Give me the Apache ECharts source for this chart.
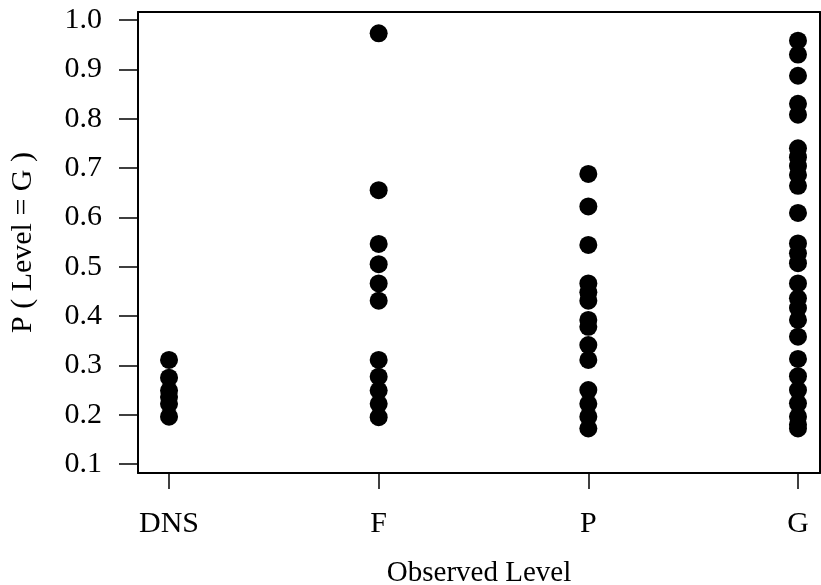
<!DOCTYPE html>
<html>
<head>
<meta charset="utf-8">
<script src="https://cdn.jsdelivr.net/npm/echarts@6/dist/echarts.min.js"></script>
<style>
  html, body { margin: 0; padding: 0; background: #fff; }
  #chart { width: 821px; height: 585px; }
</style>
</head>
<body>
<div id="chart"></div>
<script>
const levels = ['DNS', 'F', 'P', 'G'];
const dnsValues = [0.311, 0.275, 0.249, 0.236, 0.222, 0.196];
const fValues = [0.973, 0.655, 0.546, 0.505, 0.466, 0.431, 0.311, 0.277, 0.249, 0.222, 0.195];
const pValues = [0.688, 0.622, 0.544, 0.466, 0.448, 0.431, 0.392, 0.378, 0.341, 0.311, 0.250, 0.222, 0.196, 0.172];
const gValues = [0.958, 0.930, 0.887, 0.830, 0.808, 0.740, 0.722, 0.704, 0.686, 0.664, 0.609,
  0.547, 0.527, 0.507, 0.466, 0.436, 0.416, 0.392, 0.358, 0.313, 0.278, 0.250, 0.223, 0.196, 0.180, 0.172];
const yTicks = [0.1, 0.2, 0.3, 0.4, 0.5, 0.6, 0.7, 0.8, 0.9, 1.0];

const groups = [dnsValues, fValues, pValues, gValues];
const points = [];
groups.forEach((vals, i) => {
  vals.forEach(v => points.push([i + 1, v]));
});

const font = 'Liberation Serif';
const chart = echarts.init(document.getElementById('chart'));

chart.setOption({
  animation: false,
  backgroundColor: '#ffffff',
  grid: { left: 138, right: 1, top: 12, bottom: 112, containLabel: false, outerBoundsMode: 'none' },
  xAxis: [{
    type: 'value',
    min: 0.852,
    max: 4.105,
    name: 'Observed Level',
    nameLocation: 'middle',
    nameGap: 86,
    nameTextStyle: { fontFamily: font, fontSize: 29, color: '#000' },
    axisLine: { show: true, onZero: false, lineStyle: { color: '#000', width: 2 } },
    axisTick: { show: true, length: 16, customValues: [1, 2, 3, 4], lineStyle: { color: '#000', width: 1.5 } },
    axisLabel: {
      customValues: [1, 2, 3, 4],
      margin: 36,
      fontFamily: font, fontSize: 30, color: '#000',
      formatter: v => levels[Math.round(v) - 1]
    },
    splitLine: { show: false }
  }, {
    type: 'value',
    position: 'top',
    min: 0.852,
    max: 4.105,
    axisLine: { show: true, onZero: false, lineStyle: { color: '#000', width: 2 } },
    axisTick: { show: false },
    axisLabel: { show: false },
    splitLine: { show: false }
  }],
  yAxis: [{
    type: 'value',
    min: 0.0818,
    max: 1.0162,
    name: 'P ( Level = G )',
    nameLocation: 'middle',
    nameGap: 100,
    nameTextStyle: { fontFamily: font, fontSize: 30, color: '#000' },
    axisLine: { show: true, onZero: false, lineStyle: { color: '#000', width: 2 } },
    axisTick: { show: true, length: 19, customValues: yTicks, lineStyle: { color: '#000', width: 1.5 } },
    axisLabel: {
      customValues: yTicks,
      margin: 36,
      fontFamily: font, fontSize: 30, color: '#000',
      formatter: v => v.toFixed(1)
    },
    splitLine: { show: false }
  }, {
    type: 'value',
    position: 'right',
    min: 0.0818,
    max: 1.0162,
    axisLine: { show: true, onZero: false, lineStyle: { color: '#000', width: 2 } },
    axisTick: { show: false },
    axisLabel: { show: false },
    splitLine: { show: false }
  }],
  series: [{
    type: 'scatter',
    data: points,
    symbol: 'circle',
    symbolSize: 18,
    itemStyle: { color: '#000', opacity: 1 }
  }]
});
</script>
</body>
</html>
